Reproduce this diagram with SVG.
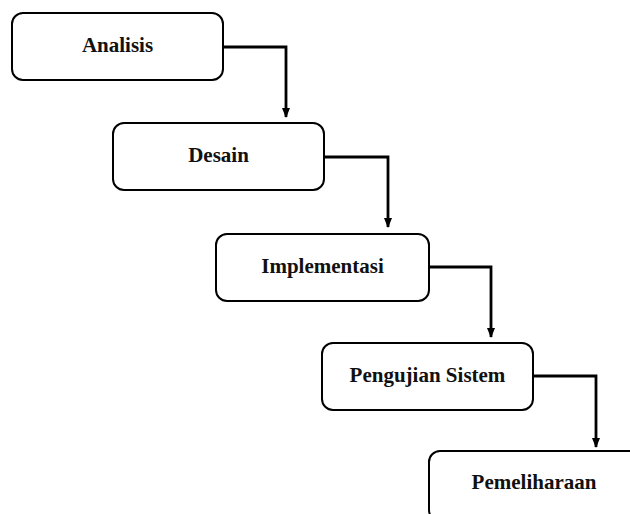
<svg xmlns="http://www.w3.org/2000/svg" width="630" height="514" viewBox="0 0 630 514">
  <defs>
    <style>
      .box { fill: #ffffff; stroke: #000000; stroke-width: 2; }
      .lbl { font-family: "Liberation Serif", "Times New Roman", serif; font-weight: bold; font-size: 21px; fill: #111111; text-anchor: middle; }
      .conn { fill: none; stroke: #000000; stroke-width: 2.8; }
    </style>
    <marker id="arrow" markerWidth="8" markerHeight="10" refX="4" refY="9" orient="0" markerUnits="userSpaceOnUse" viewBox="0 0 8 10">
      <path d="M0,0 L8,0 L4,10 Z" fill="#000000"/>
    </marker>
  </defs>
  <rect width="630" height="514" fill="#ffffff"/>
  <g id="connectors">
    <path class="conn" d="M223,47 H286 V117" marker-end="url(#arrow)"/>
    <path class="conn" d="M324,157 H388 V227" marker-end="url(#arrow)"/>
    <path class="conn" d="M429,267 H491 V337" marker-end="url(#arrow)"/>
    <path class="conn" d="M533,376 H596 V447" marker-end="url(#arrow)"/>
  </g>
  <g id="analisis">
    <rect class="box" x="12" y="13" width="211" height="67" rx="11"/>
    <text class="lbl" x="117.5" y="52">Analisis</text>
  </g>
  <g id="desain">
    <rect class="box" x="113" y="123" width="211" height="67" rx="11"/>
    <text class="lbl" x="218.5" y="162">Desain</text>
  </g>
  <g id="implementasi">
    <rect class="box" x="216" y="234" width="213" height="67" rx="11"/>
    <text class="lbl" x="322.5" y="273">Implementasi</text>
  </g>
  <g id="pengujian">
    <rect class="box" x="322" y="343" width="211" height="67" rx="11"/>
    <text class="lbl" x="427.5" y="382">Pengujian Sistem</text>
  </g>
  <g id="pemeliharaan">
    <rect class="box" x="429" y="451" width="211" height="70" rx="11"/>
    <text class="lbl" x="534" y="489">Pemeliharaan</text>
  </g>
</svg>
